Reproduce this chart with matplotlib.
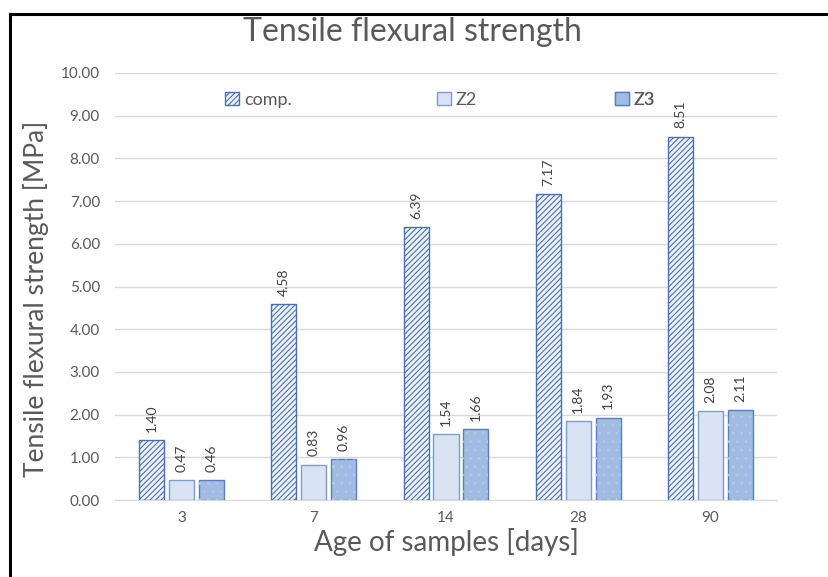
import matplotlib.pyplot as plt
import numpy as np
from matplotlib.lines import Line2D
from matplotlib.patches import Patch

# data
ages = ['3', '7', '14', '28', '90']
comp = [1.40, 4.58, 6.39, 7.17, 8.51]
z2 = [0.47, 0.83, 1.54, 1.84, 2.08]
z3 = [0.46, 0.96, 1.66, 1.93, 2.11]
series_names = ['comp.', 'Z2', 'Z3']

plt.rcParams['font.family'] = ['Lato', 'DejaVu Sans']
plt.rcParams['hatch.linewidth'] = 0.8

fig = plt.figure(figsize=(8.29, 5.77), dpi=100)
ax = fig.add_axes([0.139, 0.1334, 0.798, 0.7401])

x = np.arange(len(ages))
w = 0.19
step = 0.225

styles = [
    dict(facecolor='#eef3fb', edgecolor='#4a6fb5', hatch='//////'),
    dict(facecolor='#d9e3f4', edgecolor='#7f9bcc'),
    dict(facecolor='#a2bbe2', edgecolor='#5a7fc0'),
]

all_bars = []
for i, vals in enumerate([comp, z2, z3]):
    bars = ax.bar(x + (i - 1) * step, vals, w, linewidth=1.0, zorder=3, **styles[i])
    all_bars.append(bars)

# faint dotted texture on Z3 bars
ax.bar(x + step, z3, w, facecolor='none', edgecolor='#b4c8e8', hatch='..',
       linewidth=0, zorder=3.5)

for bars in all_bars:
    for b in bars:
        h = b.get_height()
        ax.annotate(f'{h:.2f}', (b.get_x() + b.get_width() / 2, h),
                    xytext=(0, 6), textcoords='offset points',
                    rotation=90, ha='center', va='bottom',
                    fontsize=10, color='#404040')

ax.set_ylim(0, 10)
ax.set_xlim(-0.5, len(ages) - 0.5)
ax.set_yticks(np.arange(0, 10.01, 1))
ax.set_yticklabels([f'{v:.2f}' for v in np.arange(0, 10.01, 1)])
ax.set_xticks(x)
ax.set_xticklabels(ages)
ax.tick_params(axis='both', length=0, labelsize=11, labelcolor='#595959')
ax.tick_params(axis='y', pad=11)
ax.tick_params(axis='x', pad=8)
ax.yaxis.grid(True, color='#d9d9d9', linewidth=1.0, zorder=0)
for s in ['top', 'right', 'left']:
    ax.spines[s].set_visible(False)
ax.spines['bottom'].set_color('#d9d9d9')

ax.set_xlabel('Age of samples [days]', fontsize=20, color='#595959', labelpad=2)
ax.set_ylabel('Tensile flexural strength [MPa]', fontsize=19, color='#595959')
ax.yaxis.set_label_coords(-0.100, 0.47)
fig.text(0.498, 0.945, 'Tensile flexural strength', ha='center', va='center',
         fontsize=23, color='#595959')

# legend entries spread across the top like the original
leg_x = [0.166, 0.486, 0.755]
for i, name in enumerate(series_names):
    st = styles[i]
    h = Patch(facecolor=st['facecolor'], edgecolor=st['edgecolor'],
              hatch=st.get('hatch'), linewidth=1.0)
    lg = ax.legend([h], [name], loc='center left', bbox_to_anchor=(leg_x[i], 0.937),
                   frameon=False, fontsize=13, handlelength=0.8, handleheight=0.75,
                   handletextpad=0.25, borderpad=0, borderaxespad=0)
    for t in lg.get_texts():
        t.set_color('#595959')
    ax.add_artist(lg)

# black frame line on left and top of the picture
fig.add_artist(Line2D([0.012, 0.012], [0, 0.975], color='black', linewidth=2.2))
fig.add_artist(Line2D([0.012, 1.0], [0.975, 0.975], color='black', linewidth=2.2))

fig.savefig('out.png', dpi=100)
